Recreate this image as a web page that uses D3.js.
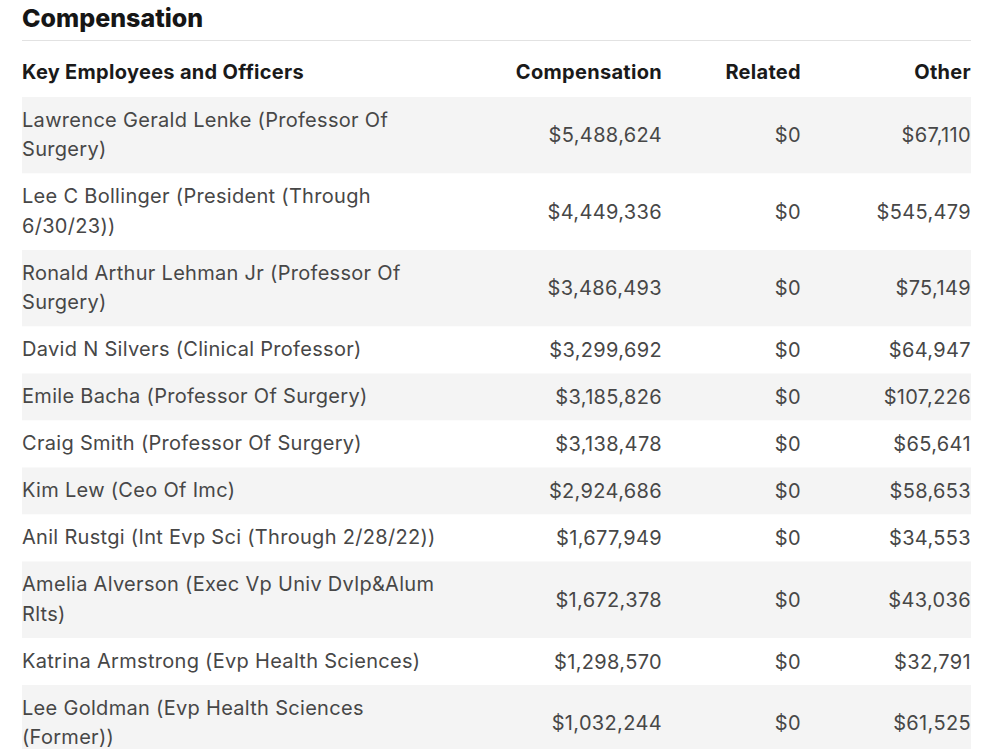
<!DOCTYPE html>
<meta charset="utf-8">
<title>Compensation</title>
<style type="text/css">
  body { margin: 0; background: #fff; }
  text { font-family: Inter, "Open Sans", sans-serif; }
</style>
<body>
<div id="chart"></div>
</body>
<script src="https://d3js.org/d3.v7.min.js"></script>
<script>

// table data
var columns = ["Key Employees and Officers", "Compensation", "Related", "Other"];

var names = [
  "Lawrence Gerald Lenke (Professor Of Surgery)",
  "Lee C Bollinger (President (Through 6/30/23))",
  "Ronald Arthur Lehman Jr (Professor Of Surgery)",
  "David N Silvers (Clinical Professor)",
  "Emile Bacha (Professor Of Surgery)",
  "Craig Smith (Professor Of Surgery)",
  "Kim Lew (Ceo Of Imc)",
  "Anil Rustgi (Int Evp Sci (Through 2/28/22))",
  "Amelia Alverson (Exec Vp Univ Dvlp&Alum Rlts)",
  "Katrina Armstrong (Evp Health Sciences)",
  "Lee Goldman (Evp Health Sciences (Former))"
];
var compensation = [5488624, 4449336, 3486493, 3299692, 3185826, 3138478, 2924686, 1677949, 1672378, 1298570, 1032244];
var related = [0, 0, 0, 0, 0, 0, 0, 0, 0, 0, 0];
var other = [67110, 545479, 75149, 64947, 107226, 65641, 58653, 34553, 43036, 32791, 61525];

var width = 1000, height = 749;
var left = 22, right = 971;
var nameWrap = 425;
var lineH = 29.5, pad = 17.5;

var fmt = d3.format("$,");

var svg = d3.select("#chart").append("svg")
    .attr("width", width)
    .attr("height", height);

// title
svg.append("text")
    .attr("x", left)
    .attr("y", 18)
    .attr("dy", "0.35em")
    .style("font-size", "25px")
    .style("font-weight", "800")
    .style("fill", "#161616")
    .text("Compensation");

svg.append("line")
    .attr("x1", left).attr("x2", right)
    .attr("y1", 40.5).attr("y2", 40.5)
    .style("stroke", "#e2e2e2");

// column right edges
var colX = d3.scaleOrdinal()
    .domain(columns)
    .range([left, 662, 801, right]);

var header = svg.append("g");
header.selectAll("text")
    .data(columns)
    .enter().append("text")
    .attr("x", function(d) { return colX(d); })
    .attr("y", 72)
    .attr("dy", "0.35em")
    .style("text-anchor", function(d, i) { return i == 0 ? "start" : "end"; })
    .style("font-size", "20px")
    .style("letter-spacing", "0.3px")
    .style("font-weight", "700")
    .style("fill", "#1a1a1a")
    .text(function(d) { return d; });

// wrap the names first so row heights can be found
var measure = svg.append("text")
    .style("font-size", "20px")
    .style("letter-spacing", "0.3px");

function wrap(str) {
  var words = str.split(" "), lines = [], cur = "";
  words.forEach(function(w) {
    var t = cur ? cur + " " + w : w;
    measure.text(t);
    if (cur && measure.node().getComputedTextLength() > nameWrap) {
      lines.push(cur);
      cur = w;
    } else {
      cur = t;
    }
  });
  lines.push(cur);
  return lines;
}

var rows = [];
var y = 97;
for (var i = 0; i < names.length; i++) {
  var lines = wrap(names[i]);
  var h = lines.length * lineH + pad;
  rows.push({name: lines, comp: compensation[i], rel: related[i], oth: other[i], y: y, h: h});
  y += h;
}
measure.remove();

var row = svg.selectAll(".row")
    .data(rows)
    .enter().append("g")
    .attr("class", "row")
    .attr("transform", function(d) { return "translate(0," + d.y + ")"; });

row.append("rect")
    .attr("x", left)
    .attr("width", right - left)
    .attr("height", function(d) { return d.h; })
    .style("fill", function(d, i) { return i % 2 == 0 ? "#f4f4f4" : "#fff"; });

row.each(function(d) {
  var g = d3.select(this);
  g.selectAll(".nm")
      .data(d.name)
      .enter().append("text")
      .attr("class", "nm")
      .attr("x", left)
      .attr("y", function(l, j) { return pad / 2 + lineH / 2 + j * lineH - 1; })
      .attr("dy", "0.35em")
      .style("font-size", "20px")
      .style("letter-spacing", "0.3px")
      .style("fill", "#474747")
      .text(function(l) { return l; });

  var vals = [fmt(d.comp), fmt(d.rel), fmt(d.oth)];
  g.selectAll(".val")
      .data(vals)
      .enter().append("text")
      .attr("class", "val")
      .attr("x", function(v, j) { return colX(columns[j + 1]); })
      .attr("y", d.h / 2)
      .attr("dy", "0.35em")
      .style("text-anchor", "end")
      .style("font-size", "20px")
      .style("letter-spacing", "0.35px")
      .style("fill", "#474747")
      .text(function(v) { return v; });
});

</script>
</body>
